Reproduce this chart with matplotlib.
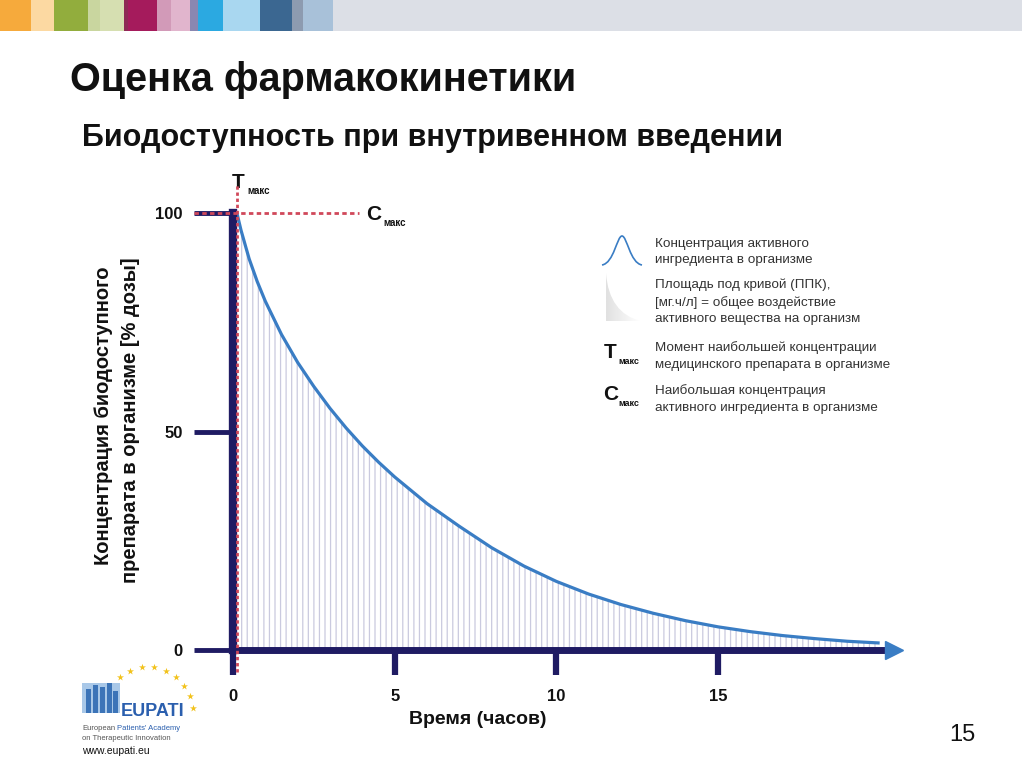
import numpy as np
import matplotlib
matplotlib.use('Agg')
import matplotlib.pyplot as plt
from matplotlib.patches import Rectangle, PathPatch
from matplotlib.path import Path

plt.rcParams['font.family'] = ['Liberation Sans', 'DejaVu Sans']
plt.rcParams['hatch.linewidth'] = 0.9

# concentration after an i.v. dose
hours = [0.12, 0.25, 0.5, 0.75, 1, 1.5, 2, 2.5, 3, 3.5, 4, 4.5, 5, 6, 7, 8, 9, 10,
         11, 12, 13, 14, 15, 16, 17, 18, 19, 20]
conc = [100, 96, 89.5, 84.3, 79.8, 72.2, 65.8, 60.3, 55.3, 50.8, 46.7, 43.0, 39.6, 33.5,
        28.3, 23.4, 19.2, 15.7, 12.8, 10.4, 8.4, 6.7, 5.3, 4.2, 3.3, 2.6, 2.0, 1.6]
t_max = 0.12
c_max = 100
xticks = [0, 5, 10, 15]
yticks = [0, 50, 100]

legend_lines = [
    ['Концентрация активного', 'ингредиента в организме'],
    ['Площадь под кривой (ППК),', '[мг.ч/л] = общее воздействие', 'активного вещества на организм'],
    ['Момент наибольшей концентрации', 'медицинского препарата в организме'],
    ['Наибольшая концентрация', 'активного ингредиента в организме'],
]

# top colour strip (x from, x to, colour)
strip = [(0, 31, '#f6aa3c'), (31, 54, '#fcd9a2'), (54, 88, '#92ad3d'), (88, 100, '#c9d69f'),
         (100, 124, '#d6dfb1'), (124, 128, '#8e2a55'), (128, 157, '#a51b5c'), (157, 171, '#d29ab8'),
         (171, 190, '#e1b5cd'), (190, 198, '#8987b1'), (198, 223, '#2ba9e1'), (223, 260, '#a9d7f0'),
         (260, 292, '#3b6791'), (292, 303, '#8d9bb0'), (303, 333, '#a8c1d9'), (333, 1022, '#dcdfe6')]

W, H = 1024, 767
navy = '#1f1b63'
blue = '#3a7dc4'
red = '#d0485a'
ink = '#111111'

fig = plt.figure(figsize=(W / 100, H / 100), dpi=100)

# page overlay in pixel coordinates
bg = fig.add_axes([0, 0, 1, 1])
bg.axis('off')
for a, b, c in strip:
    bg.add_patch(Rectangle((a, 0), b - a, 31, color=c, lw=0))

bg.text(70, 80, 'Оценка фармакокинетики', fontsize=28.5, fontweight='bold', va='center', color=ink)
bg.text(82, 138, 'Биодоступность при внутривенном введении', fontsize=22, fontweight='bold',
        va='center', color=ink)

# y label (two lines)
bg.text(104, 416, 'Концентрация биодоступного', rotation=90, fontsize=14.5, fontweight='bold',
        ha='center', va='center', color=ink)
bg.text(130, 420, 'препарата в организме [% дозы]', rotation=90, fontsize=14.5, fontweight='bold',
        ha='center', va='center', color=ink)
bg.text(478, 720, 'Время (часов)', fontsize=14, fontweight='bold', ha='center', va='center', color=ink)

# Tmax / Cmax labels near chart
bg.text(232, 183, 'T', fontsize=15, fontweight='bold', va='center', color=ink)
bg.text(247, 191, 'макс', fontsize=7, fontweight='bold', va='center', color=ink)
bg.text(366, 214, 'C', fontsize=15, fontweight='bold', va='center', color=ink)
bg.text(383, 223, 'макс', fontsize=7, fontweight='bold', va='center', color=ink)

# legend icons
bell = Path([(602, 265), (614, 263), (617, 236), (622, 236), (627, 236), (630, 263), (642, 265)],
            [Path.MOVETO, Path.CURVE4, Path.CURVE4, Path.CURVE4, Path.CURVE4, Path.CURVE4, Path.CURVE4])
bg.add_patch(PathPatch(bell, fill=False, ec=blue, lw=1.2))
tri = Path([(606, 273), (606, 321), (641, 321), (620, 316), (608, 300), (606, 273)],
           [Path.MOVETO, Path.LINETO, Path.LINETO, Path.CURVE4, Path.CURVE4, Path.CURVE4])
tri_patch = PathPatch(tri, fc='none', ec='none')
bg.add_patch(tri_patch)
grad = np.linspace(0.88, 1.0, 50).reshape(1, -1)
im = bg.imshow(grad, cmap='gray', vmin=0, vmax=1, extent=(606, 641, 321, 273), aspect='auto')
im.set_clip_path(tri_patch)
bg.set_xlim(0, W)
bg.set_ylim(H, 0)

leg_y = [252, 302, 356, 399]
for y0, lines in zip(leg_y, legend_lines):
    bg.text(655, y0, '\n'.join(lines), fontsize=9.7, va='center', color='#333333', linespacing=1.5)
bg.text(604, 352, 'T', fontsize=15, fontweight='bold', va='center', color=ink)
bg.text(618, 361, 'макс', fontsize=6.5, fontweight='bold', va='center', color=ink)
bg.text(603, 394, 'C', fontsize=15, fontweight='bold', va='center', color=ink)
bg.text(618, 403, 'макс', fontsize=6.5, fontweight='bold', va='center', color=ink)

# EUPATI logo (approximate)
ang = np.linspace(200, 355, 11)
bg.scatter(148 + 45 * np.cos(np.radians(ang)), 712 + 45 * np.sin(np.radians(ang)),
           marker='*', s=28, color='#f2c21b', lw=0)
bg.add_patch(Rectangle((82, 683), 38, 30, color='#a9c8e8', lw=0))
for px, ph in [(88, 24), (95, 28), (102, 26), (109, 30), (115, 22)]:
    bg.add_patch(Rectangle((px - 2.5, 713 - ph), 5, ph, color='#3c74b8', lw=0))
bg.text(121, 711, 'EUPATI', fontsize=13, fontweight='bold', va='center', color='#2b5fae')
bg.text(82, 729, 'European', fontsize=5.5, va='center', color='#555555')
bg.text(117, 729, "Patients' Academy", fontsize=5.5, va='center', color='#2b5fae')
bg.text(82, 738, 'on Therapeutic Innovation', fontsize=5.5, va='center', color='#555555')
bg.text(82, 751, 'www.eupati.eu', fontsize=7.5, va='center', color=ink)

bg.text(962, 735, '15', fontsize=17, ha='center', va='center', color=ink)

# data axes, placed so that 0 h -> px 233, 15 h -> px 718, 0 % -> px 650, 100 % -> px 213
x0px, xpu = 233, (718 - 233) / 15
y0px, ypu = 650, (650 - 213) / 100
xlim = (-1.2, 21.5)
ylim = (-10, 108)
left = (x0px + xlim[0] * xpu) / W
bottom = (H - (y0px - ylim[0] * ypu)) / H
ax = fig.add_axes([left, bottom, (xlim[1] - xlim[0]) * xpu / W, (ylim[1] - ylim[0]) * ypu / H])
ax.set_xlim(*xlim)
ax.set_ylim(*ylim)
ax.patch.set_alpha(0)

ax.fill_between(hours, 0, conc, facecolor='none', edgecolor='#cacadf', hatch='|||', lw=0, zorder=1)
ax.plot(hours, conc, color=blue, lw=2.3, solid_capstyle='butt', zorder=3)

for s in ['top', 'right']:
    ax.spines[s].set_visible(False)
ax.spines['left'].set_bounds(0, 100)
ax.spines['left'].set_linewidth(6)
ax.spines['left'].set_color(navy)
ax.spines['left'].set_position(('data', 0))
ax.spines['left'].set_zorder(4)
ax.spines['bottom'].set_bounds(0, 20.1)
ax.spines['bottom'].set_linewidth(5)
ax.spines['bottom'].set_color(navy)
ax.spines['bottom'].set_position(('data', 0))
ax.spines['bottom'].set_zorder(4)

ax.set_xticks(xticks)
ax.set_yticks(yticks)
ax.tick_params(axis='x', length=18, width=4.5, color=navy, pad=10, labelsize=12)
ax.tick_params(axis='y', length=28, width=3.5, color=navy, pad=8, labelsize=12)
for lab in ax.get_xticklabels() + ax.get_yticklabels():
    lab.set_fontweight('bold')
    lab.set_color(ink)

# arrow head on time axis
ax.plot([20.45], [0], marker='>', ms=13, color=blue, clip_on=False, zorder=5)

# Tmax / Cmax guides
ax.plot([t_max, t_max], [-5, 106.5], color=red, lw=2, ls=(0, (1.2, 1.0)), zorder=5, clip_on=False)
ax.plot([-1.2, 3.9], [c_max, c_max], color=red, lw=2, ls=(0, (1.6, 1.2)), zorder=5, clip_on=False)

fig.savefig('out.png', dpi=100)
